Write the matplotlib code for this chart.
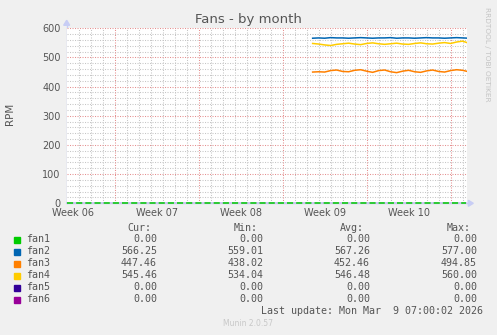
import numpy as np
import matplotlib
matplotlib.use("Agg")
import matplotlib.pyplot as plt
from matplotlib.patches import Rectangle, Polygon

# ---------------- data ----------------
series_names = ["fan1", "fan2", "fan3", "fan4", "fan5", "fan6"]
series_colors = ["#00cc00", "#0066b3", "#ff8000", "#ffcc00", "#330099", "#990099"]

week_labels = ["Week 06", "Week 07", "Week 08", "Week 09", "Week 10"]

# sampled every half day, starting at day 20.5 of the window
fan_start_day = 20.5
fan_step_day = 0.5
fan2 = [566, 567, 566, 568, 567, 567, 566, 567, 568, 567, 566, 567, 567, 568,
        566, 567, 567, 566, 567, 568, 567, 567, 566, 567, 568, 567, 566]
fan3 = [450, 451, 450, 455, 457, 452, 451, 456, 458, 453, 449, 455, 457, 451,
        448, 453, 456, 451, 449, 454, 457, 452, 450, 455, 458, 456, 451]
fan4 = [548, 546, 543, 541, 545, 547, 549, 546, 544, 548, 550, 547, 545, 547,
        549, 546, 545, 548, 550, 547, 546, 549, 551, 548, 553, 556, 549]
# zero-valued fans across the whole window
zero_days = [0, 33.3]
fan1 = [0, 0]
fan5 = [0, 0]
fan6 = [0, 0]

legend_cur = ["0.00", "566.25", "447.46", "545.46", "0.00", "0.00"]
legend_min = ["0.00", "559.01", "438.02", "534.04", "0.00", "0.00"]
legend_avg = ["0.00", "567.26", "452.46", "546.48", "0.00", "0.00"]
legend_max = ["0.00", "577.00", "494.85", "560.00", "0.00", "0.00"]

# ---------------- figure ----------------
W, H = 497, 335
fig = plt.figure(figsize=(W / 100, H / 100), dpi=100, facecolor="#f0f0f0")

def fx(x):
    return x / W

def fy(y):
    return 1 - y / H

L, R, T, B = 66.7, 467.3, 28.3, 203.3
ax = fig.add_axes([fx(L), fy(B), fx(R - L), (B - T) / H])
ax.set_facecolor("white")
XMAX = 33.39
ax.set_xlim(0, XMAX)
ax.set_ylim(0, 600)
for s in ax.spines.values():
    s.set_visible(False)

# axis lines with arrows (drawn first, under data)
axis_col = "#c8cdf5"
fig.add_artist(plt.Line2D([fx(L), fx(L)], [fy(B), fy(T - 4)], color=axis_col, lw=1, zorder=-1))
fig.add_artist(plt.Line2D([fx(L), fx(R + 2)], [fy(B), fy(B)], color=axis_col, lw=1, zorder=-1))
fig.add_artist(Polygon([[fx(L - 3), fy(T - 3)], [fx(L + 3), fy(T - 3)], [fx(L), fy(T - 8)]],
                       closed=True, color=axis_col, transform=fig.transFigure, zorder=-1))
fig.add_artist(Polygon([[fx(R + 1), fy(B - 3)], [fx(R + 1), fy(B + 3)], [fx(R + 6), fy(B)]],
                       closed=True, color=axis_col, transform=fig.transFigure, zorder=-1))

# grid
minor_grey = "#c6c6c6"
major_red = "#e59090"
dots = (0, (1, 1.4))
for d in np.arange(1, XMAX, 1.0):
    if abs((d - 4) % 7) > 1e-6:
        ax.axvline(d, color=minor_grey, lw=0.75, ls=dots, zorder=0)
for y in np.arange(20, 601, 20):
    if y % 100 != 0:
        ax.axhline(y, color=minor_grey, lw=0.75, ls=dots, zorder=0)
for d in np.arange(4, XMAX, 7.0):
    ax.axvline(d, color=major_red, lw=0.75, ls=dots, zorder=0.5)
for y in np.arange(100, 601, 100):
    ax.axhline(y, color=major_red, lw=0.75, ls=dots, zorder=0.5)

# data
days = fan_start_day + fan_step_day * np.arange(len(fan2))
ax.plot(zero_days, fan6, color="#d9b3e6", lw=1.1, zorder=2, clip_on=False)
ax.plot(zero_days, fan5, color="#c9c9f5", lw=1.1, zorder=2, clip_on=False)
ax.plot(zero_days, fan1, color=series_colors[0], lw=1.1, ls=(0, (4, 2)), zorder=3, clip_on=False)
ax.plot(days, fan2, color=series_colors[1], lw=1.1, zorder=3)
ax.plot(days, fan3, color=series_colors[2], lw=1.1, zorder=3)
ax.plot(days, fan4, color=series_colors[3], lw=1.1, zorder=3)

# axes ticks
ax.set_yticks(np.arange(0, 601, 100))
ax.set_yticklabels([str(v) for v in range(0, 601, 100)])
ax.set_xticks(0.5 + 7 * np.arange(len(week_labels)))
ax.set_xticklabels(week_labels)
ax.tick_params(axis="both", length=0, labelsize=7, labelcolor="#555555")
ax.tick_params(axis="y", pad=4.5)
ax.tick_params(axis="x", pad=3.5)

# title and labels
fig.text(fx(248), fy(19), "Fans - by month", ha="center", va="center",
         fontsize=9.5, color="#555555")
fig.text(fx(10), fy(114), "RPM", rotation=90, ha="center", va="center",
         fontsize=7.5, color="#555555")
fig.text(fx(487), fy(54), "RRDTOOL / TOBI OETIKER", rotation=270, ha="center",
         va="center", fontsize=5.3, color="#c4c4c4")

# legend
mono = "DejaVu Sans Mono"
fs = 7.2
tcol = "#555555"
hy = 228
fig.text(fx(151), fy(hy), "Cur:", ha="right", va="center", family=mono, fontsize=fs, color=tcol)
fig.text(fx(257.5), fy(hy), "Min:", ha="right", va="center", family=mono, fontsize=fs, color=tcol)
fig.text(fx(363.5), fy(hy), "Avg:", ha="right", va="center", family=mono, fontsize=fs, color=tcol)
fig.text(fx(470.5), fy(hy), "Max:", ha="right", va="center", family=mono, fontsize=fs, color=tcol)
for i, name in enumerate(series_names):
    y = 239.5 + 12 * i
    fig.add_artist(Rectangle((fx(14), fy(y + 3)), 6 / W, 6 / H, color=series_colors[i],
                             transform=fig.transFigure))
    fig.text(fx(26.5), fy(y), name, ha="left", va="center", family=mono, fontsize=fs, color=tcol)
    fig.text(fx(157), fy(y), legend_cur[i], ha="right", va="center", family=mono, fontsize=fs, color=tcol)
    fig.text(fx(263.5), fy(y), legend_min[i], ha="right", va="center", family=mono, fontsize=fs, color=tcol)
    fig.text(fx(370), fy(y), legend_avg[i], ha="right", va="center", family=mono, fontsize=fs, color=tcol)
    fig.text(fx(477), fy(y), legend_max[i], ha="right", va="center", family=mono, fontsize=fs, color=tcol)

fig.text(fx(483), fy(311.5), "Last update: Mon Mar  9 07:00:02 2026", ha="right", va="center",
         family=mono, fontsize=fs, color=tcol)
fig.text(fx(248), fy(324), "Munin 2.0.57", ha="center", va="center", fontsize=5.5, color="#c8c8c8")

fig.savefig("out.png", dpi=100, facecolor=fig.get_facecolor())
